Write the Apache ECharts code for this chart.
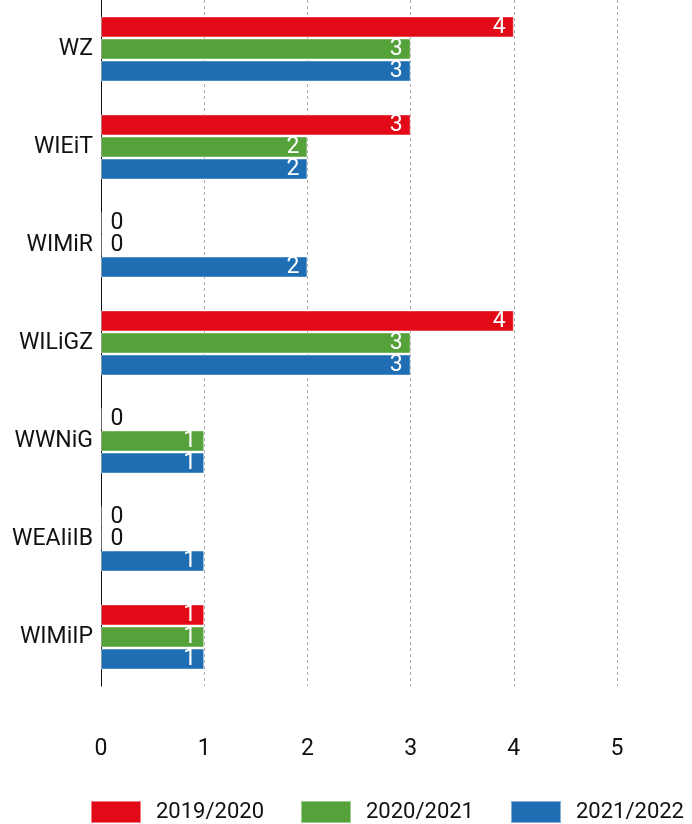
<!DOCTYPE html>
<html lang="pl">
<head>
    <meta charset="UTF-8">
    <title>Chart</title>
    <script src="https://cdn.jsdelivr.net/npm/echarts@6/dist/echarts.min.js"></script>
    <style>
        html, body { margin: 0; padding: 0; background: #fff; }
        #main { width: 692px; height: 824px; }
    </style>
</head>
<body>
    <div id="main"></div>
    <script>
        var categories = ['WZ', 'WIEiT', 'WIMiR', 'WILiGZ', 'WWNiG', 'WEAIiIB', 'WIMiIP'];
        var seriesNames = ['2019/2020', '2020/2021', '2021/2022'];
        var values2019 = [4, 3, 0, 4, 0, 0, 1];
        var values2020 = [3, 2, 0, 3, 1, 0, 1];
        var values2021 = [3, 2, 2, 3, 1, 1, 1];
        var xTicks = [0, 1, 2, 3, 4, 5];
        var colors = ['#E30A17', '#55A23A', '#1F6EB4'];

        var font = 'Roboto, "DejaVu Sans", sans-serif';

        // zero values get a dark label outside the (empty) bar
        function toData(arr) {
            return arr.map(function (v) {
                if (v === 0) {
                    return { value: v, label: { position: 'right', color: '#111', distance: 9 } };
                }
                return v;
            });
        }

        var allValues = [values2019, values2020, values2021];
        var series = [];
        for (var i = 0; i < seriesNames.length; i++) {
            series.push({
                name: seriesNames[i],
                type: 'bar',
                barWidth: 21,
                barGap: '5%',
                barCategoryGap: '30%',
                itemStyle: {
                    color: colors[i],
                    borderColor: 'rgba(255,255,255,0.45)',
                    borderWidth: 1
                },
                label: {
                    show: true,
                    position: 'insideRight',
                    distance: 8,
                    color: '#fff',
                    fontSize: 23,
                    fontFamily: font
                },
                data: toData(allValues[i])
            });
        }

        var myChart = echarts.init(document.getElementById('main'));
        myChart.setOption({
            backgroundColor: '#fff',
            animation: false,
            color: colors,
            grid: {
                left: 101,
                right: 75,
                top: 0,
                bottom: 138
            },
            legend: {
                left: 90,
                top: 800,
                width: 602,
                padding: 0,
                itemWidth: 50,
                itemHeight: 22,
                itemGap: 36,
                icon: 'rect',
                textStyle: {
                    fontSize: 22,
                    fontFamily: font,
                    color: '#111',
                    padding: [0, 0, 0, 10]
                },
                data: seriesNames
            },
            xAxis: {
                type: 'value',
                min: xTicks[0],
                max: xTicks[xTicks.length - 1],
                interval: 1,
                axisLine: { show: false },
                axisTick: { show: false },
                axisLabel: {
                    margin: 52,
                    fontSize: 23,
                    fontFamily: font,
                    color: '#111'
                },
                splitLine: {
                    show: true,
                    lineStyle: { color: '#aaa', type: [3, 3], width: 1 }
                }
            },
            yAxis: {
                type: 'category',
                inverse: true,
                data: categories,
                axisLine: { show: true, lineStyle: { color: '#111', width: 1 } },
                axisTick: { show: false },
                axisLabel: {
                    margin: 8,
                    fontSize: 23,
                    fontFamily: font,
                    color: '#111'
                }
            },
            series: series
        });
    </script>
</body>
</html>
